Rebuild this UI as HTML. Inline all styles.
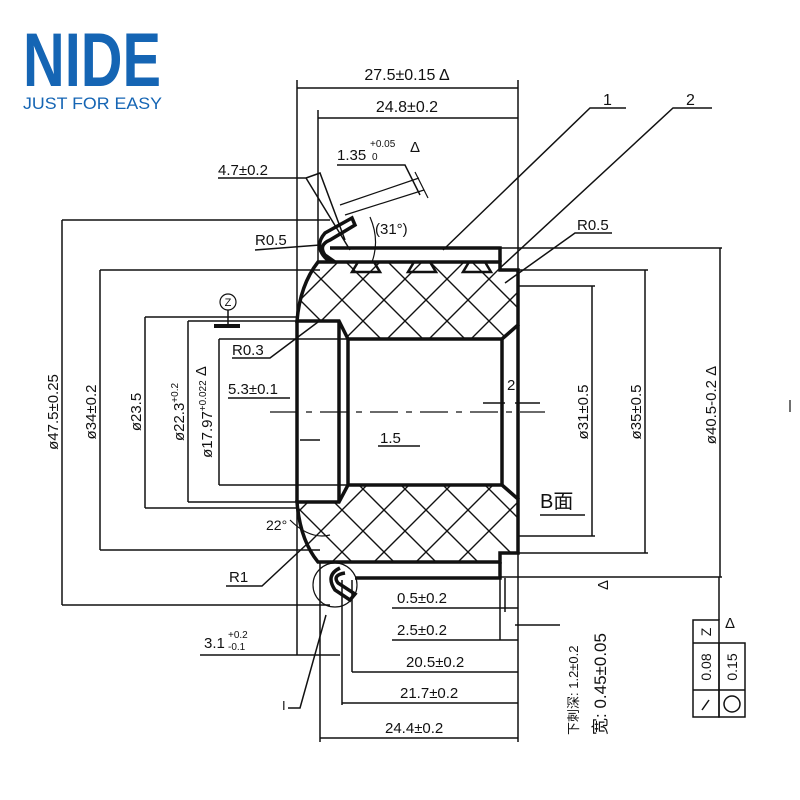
<!DOCTYPE html>
<html><head><meta charset="utf-8"><style>
html,body{margin:0;padding:0;background:#fff}
svg{display:block}
text{font-family:"Liberation Sans","Noto Sans CJK SC",sans-serif;fill:#111}
</style></head><body>
<svg width="800" height="800" viewBox="0 0 800 800" xmlns="http://www.w3.org/2000/svg">
<defs>
<clipPath id="body">
<path d="M318,262 L500,262 L500,270 L518,270 L518,325 L502,339 L348,339 L339,321 L297,321 Q300,285 318,262 Z"/>
<path d="M318,562 L500,562 L500,553 L518,553 L518,499 L502,485 L348,485 L339,502 L297,502 Q300,540 318,562 Z"/>
</clipPath>
</defs>
<text x="23" y="86" font-size="76" font-weight="bold" style="fill:#1565b4" textLength="138" lengthAdjust="spacingAndGlyphs">NIDE</text>
<text x="23" y="109" font-size="17" style="fill:#1565b4" textLength="139" lengthAdjust="spacingAndGlyphs">JUST FOR EASY</text>

<g stroke="#111" fill="none" stroke-width="1.5">
<g clip-path="url(#body)" stroke-width="1.4">
<path d="M-110,100 L390,600 M-68,100 L432,600 M-26,100 L474,600 M16,100 L516,600 M58,100 L558,600 M100,100 L600,600 M142,100 L642,600 M184,100 L684,600 M226,100 L726,600 M268,100 L768,600 M310,100 L810,600"/>
<path d="M500,100 L0,600 M542,100 L42,600 M584,100 L84,600 M626,100 L126,600 M668,100 L168,600 M710,100 L210,600 M752,100 L252,600 M794,100 L294,600 M836,100 L336,600 M878,100 L378,600 M920,100 L420,600"/>
</g>
<g stroke-width="3.5">
<path d="M318,262 L500,262 L500,270 L518,270 L518,325 L502,339 L348,339 L339,321 L297,321 Q300,285 318,262 Z"/>
<path d="M318,562 L500,562 L500,553 L518,553 L518,499 L502,485 L348,485 L339,502 L297,502 Q300,540 318,562 Z"/>
<path d="M297,321 L297,502 M339,321 L339,502 M348,339 L348,485 M502,339 L502,485 M518,325 L518,499"/>
<path d="M330,248 L500,248 L500,262 M335,262 L325,255 Q318,245 330,240 L355,225 L352,218 L325,233 Q312,248 330,262"/>
<path d="M355,578 L500,578 L500,562 M340,568 Q325,575 335,590 L350,600 L355,594 L338,583 Q332,575 345,573"/>
</g>
<g stroke-width="2.5">
<path d="M352,272 L380,272 L374,262 L358,262 Z M408,272 L436,272 L430,262 L414,262 Z M463,272 L491,272 L485,262 L469,262 Z"/>
</g>
<path d="M270,412 L545,412" stroke-dasharray="28,8,6,8" stroke-width="1.3"/>
<path d="M297,80 L297,655 M318,110 L318,262 M320,562 L320,742 M518,80 L518,742 M342,580 L342,705 M352,580 L352,672 M500,578 L500,640 M505,578 L505,612"/>
<path d="M297,88 L518,88 M318,118 L518,118"/>
<path d="M62,220 L330,220 M62,605 L330,605 M100,270 L320,270 M100,550 L320,550 M145,317 L297,317 M145,508 L297,508 M188,321 L297,321 M188,502 L297,502 M219,339 L348,339 M219,485 L348,485 M62,220 L62,605 M100,270 L100,550 M145,317 L145,508 M188,321 L188,502 M219,339 L219,485"/>
<path d="M500,248 L722,248 M500,577 L722,577 M518,270 L648,270 M518,553 L648,553 M518,286 L595,286 M518,536 L595,536 M720,248 L720,577 M645,270 L645,553 M592,286 L592,536"/>
<path d="M392,608 L518,608 M392,640 L518,640 M352,672 L518,672 M342,703 L518,703 M320,738 L518,738 M515,625 L560,625 M200,655 L340,655"/>
<path d="M443,250 L590,108 L626,108 M500,268 L673,108 L712,108 M505,283 L575,233 L612,233 M218,178 L306,178 L350,250 M306,178 L320,173 L345,240 M255,250 L320,245 M232,358 L270,358 L318,322 M226,586 L262,586 L306,545 M288,708 L300,708 L326,615 M228,398 L290,398 M515,403 L540,403 M483,403 L505,403 M320,440 L300,440 M378,446 L420,446 M337,165 L405,165 L420,195 M540,515 L585,515"/>
<circle cx="335" cy="585" r="22" stroke-width="1.2"/>
<circle cx="228" cy="302" r="8" stroke-width="1.2"/>
<path d="M228,310 L228,325"/>
<path d="M214,326 L240,326" stroke-width="4"/>
<path d="M340,205 L419,178 M345,215 L424,190 M415,172 L428,198" stroke-width="1.2"/>
<path d="M370,217 Q380,240 372,262 M290,520 Q310,540 330,535" stroke-width="1.2"/>
</g>
<g stroke="none" font-size="16">
<text x="407" y="80" text-anchor="middle">27.5±0.15 Δ</text>
<text x="407" y="112" text-anchor="middle">24.8±0.2</text>
<text x="603" y="105">1</text>
<text x="686" y="105">2</text>
<text x="577" y="230" font-size="15">R0.5</text>
<text x="255" y="245" font-size="15">R0.5</text>
<text x="218" y="175" font-size="15">4.7±0.2</text>
<text x="337" y="160" font-size="15">1.35</text>
<text x="370" y="147" font-size="10">+0.05</text>
<text x="372" y="160" font-size="10">0</text>
<text x="410" y="152" font-size="15">Δ</text>
<text x="375" y="234" font-size="15">(31°)</text>
<text x="232" y="355" font-size="15">R0.3</text>
<text x="228" y="306" font-size="11" text-anchor="middle">Z</text>
<text x="228" y="394" font-size="15">5.3±0.1</text>
<text x="380" y="443" font-size="15">1.5</text>
<text x="507" y="390" font-size="15">2</text>
<text x="540" y="508" font-size="20">B面</text>
<text x="229" y="582" font-size="15">R1</text>
<text x="266" y="530" font-size="14">22°</text>
<text x="204" y="648" font-size="15">3.1</text>
<text x="228" y="638" font-size="10">+0.2</text>
<text x="228" y="650" font-size="10">-0.1</text>
<text x="282" y="710" font-size="13">I</text>
<text x="397" y="603" font-size="15">0.5±0.2</text>
<text x="397" y="635" font-size="15">2.5±0.2</text>
<text x="406" y="667" font-size="15">20.5±0.2</text>
<text x="400" y="698" font-size="15">21.7±0.2</text>
<text x="385" y="733" font-size="15">24.4±0.2</text>
<text transform="translate(58,412) rotate(-90)" font-size="15" text-anchor="middle">ø47.5±0.25</text>
<text transform="translate(96,412) rotate(-90)" font-size="15" text-anchor="middle">ø34±0.2</text>
<text transform="translate(141,412) rotate(-90)" font-size="15" text-anchor="middle">ø23.5</text>
<text transform="translate(184,412) rotate(-90)" font-size="15" text-anchor="middle">ø22.3<tspan font-size="10" dy="-6">+0.2</tspan></text>
<text transform="translate(212,412) rotate(-90)" font-size="15" text-anchor="middle">ø17.97<tspan font-size="10" dy="-6">+0.022</tspan> Δ</text>
<text transform="translate(588,412) rotate(-90)" font-size="15" text-anchor="middle">ø31±0.5</text>
<text transform="translate(641,412) rotate(-90)" font-size="15" text-anchor="middle">ø35±0.5</text>
<text transform="translate(716,405) rotate(-90)" font-size="15" text-anchor="middle">ø40.5-0.2   Δ</text>
<text transform="translate(578,735) rotate(-90)" font-size="13">下刺深: 1.2±0.2</text>
<text transform="translate(606,735) rotate(-90)" font-size="17">宽: 0.45±0.05</text>
<text transform="translate(608,590) rotate(-90)" font-size="15">Δ</text>
<text x="725" y="628" font-size="15">Δ</text>
</g>
<g stroke="#111" fill="none" stroke-width="1.5">
<rect x="693" y="620" width="26" height="97"/>
<rect x="719" y="643" width="26" height="74"/>
<path d="M693,643 L719,643 M693,690 L745,690 M719,577 L719,620"/>
<circle cx="732" cy="704" r="8"/>
<path d="M702,710 L709,700"/>
</g>
<g stroke="none" font-size="14">
<text transform="translate(711,632) rotate(-90)" text-anchor="middle">Z</text>
<text transform="translate(711,667) rotate(-90)" text-anchor="middle">0.08</text>
<text transform="translate(737,667) rotate(-90)" text-anchor="middle">0.15</text>
</g>
<path d="M790,400 L790,412" stroke="#111" stroke-width="1.2"/>
</svg>
</body></html>
